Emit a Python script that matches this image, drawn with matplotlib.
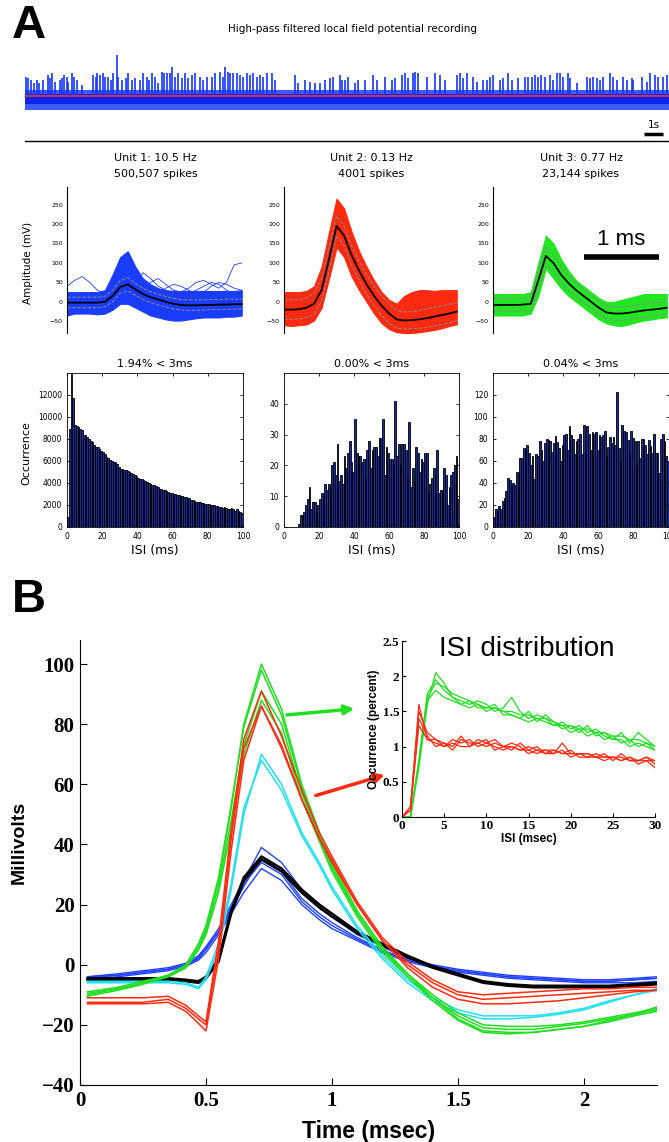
import numpy as np
import matplotlib
matplotlib.use('Agg')
import matplotlib.pyplot as plt

plt.rcParams['font.family'] = ['DejaVu Sans']

# ---------------- data ----------------
# A: raw recording, spike times (s) and heights (arbitrary units)
spike_t = [0.33, 0.46, 0.59, 0.80, 0.93, 1.07, 1.30, 1.58, 1.67, 1.80, 1.95, 2.22, 2.32, 2.45, 2.59,
           2.69, 2.87, 3.00, 3.15, 3.43, 4.08, 4.20, 4.30, 4.45, 4.63, 4.74, 4.91, 5.06, 5.19, 5.37,
           5.46, 5.65, 5.89, 6.02, 6.20, 6.39, 6.67, 6.85, 7.04, 7.17, 7.32, 7.50, 7.69, 7.87, 8.00,
           8.15, 8.33, 8.46, 8.61, 8.80, 8.98, 9.17, 9.35, 9.54, 9.72, 10.00, 10.19, 10.37, 10.65,
           10.83, 11.11, 11.26, 11.39, 11.54, 11.67, 11.85, 12.04, 12.22, 12.41, 12.59, 12.78, 12.96,
           13.15, 13.33, 13.52, 13.70, 13.98, 14.17, 15.28, 15.46, 15.83, 16.11, 16.39, 16.67, 16.95,
           17.22, 17.41, 17.78, 17.87, 18.05, 18.24, 18.61, 18.79, 19.16, 19.63, 19.81, 20.28, 20.65,
           20.83, 21.20, 21.39, 21.57, 21.81, 21.94, 22.13, 22.59, 23.05, 23.33, 23.61, 24.26, 24.44,
           24.63, 24.81, 25.18, 25.37, 25.74, 25.92, 26.11, 26.29, 26.66, 26.85, 27.13, 27.31, 27.68,
           28.05, 28.24, 28.42, 28.61, 28.79, 28.92, 29.16, 29.44, 29.63, 29.81, 30.00, 30.18, 30.46,
           30.55, 30.92, 31.48, 31.66, 31.85, 32.03, 32.22, 32.41, 32.78, 32.96, 33.15, 33.52, 33.70,
           33.98, 34.07, 34.53, 34.81, 34.99, 35.27, 35.46, 35.74, 35.92]
spike_h = [19, 18, 16, 13, 16, 13, 16, 21, 18, 23, 14, 16, 18, 21, 19,
           14, 23, 19, 16, 11, 21, 19, 23, 21, 23, 19, 19, 16, 23, 41,
           19, 16, 18, 23, 16, 18, 16, 23, 19, 16, 23, 19, 13, 24, 23,
           23, 23, 29, 19, 23, 18, 23, 18, 21, 23, 19, 16, 19, 19,
           23, 24, 19, 29, 24, 23, 23, 23, 21, 19, 23, 21, 23,
           19, 21, 19, 23, 23, 16, 21, 13, 16, 14, 13, 13, 16,
           18, 19, 21, 16, 16, 19, 13, 16, 16, 21, 16, 19, 16,
           18, 21, 23, 18, 23, 24, 23, 19, 23, 21, 16, 21, 23,
           18, 23, 19, 14, 16, 16, 19, 21, 16, 18, 23, 16, 18,
           19, 19, 19, 21, 19, 21, 19, 21, 16, 23, 23, 19, 23,
           18, 13, 19, 18, 19, 18, 16, 19, 23, 19, 16, 19, 16,
           18, 16, 19, 14, 23, 21, 19, 19, 21]
noise_outer = (-14, 6)
noise_inner = (-8, 2.5)

# A: spike waveforms (ms, mV)
wave_t = [0.0, 0.1, 0.2, 0.3, 0.4, 0.5, 0.6, 0.7, 0.8, 0.9, 1.0, 1.1,
          1.2, 1.3, 1.4, 1.5, 1.6, 1.7, 1.8, 1.9, 2.0, 2.1, 2.2, 2.3]
u1_mean = [-2, -2, -2, -2, -2, 0, 15, 38, 45, 32, 20, 12, 6, 0, -5, -8, -9, -9, -8, -8, -7, -7, -6, -6]
u1_hi = [25, 25, 25, 25, 25, 30, 70, 115, 130, 90, 60, 45, 35, 30, 28, 28, 28, 28, 28, 28, 28, 28, 28, 30]
u1_lo = [-35, -30, -30, -30, -32, -30, -20, -5, -5, -15, -25, -35, -40, -45, -48, -48, -45, -42, -40, -40, -40, -38, -38, -35]
u1_sd_hi = [12, 12, 12, 12, 12, 14, 30, 55, 62, 47, 35, 26, 20, 14, 9, 6, 5, 5, 5, 6, 6, 7, 7, 7]
u1_sd_lo = [-15, -15, -15, -15, -15, -13, 0, 22, 28, 17, 6, -2, -8, -13, -18, -21, -22, -22, -21, -20, -20, -19, -19, -18]
u1_wild_a = [40, 55, 65, 50, 30, 20, 25, 45, 50, 30, 20, 15, 20, 35, 45, 40, 30, 20, 25, 40, 50, 45, 35, 30]
u1_wild_b = [10, 15, 20, 15, 10, 5, 30, 60, 70, 55, 40, 50, 60, 45, 30, 25, 35, 50, 55, 45, 35, 50, 95, 100]
u1_wild_c = [-20, -10, 5, 10, 0, -5, 20, 50, 60, 40, 75, 60, 40, 30, 20, 15, 20, 30, 40, 50, 45, 30, 20, 15]

u2_mean = [-20, -20, -19, -15, -5, 30, 110, 195, 170, 120, 80, 45, 15, -10, -30, -45, -48, -47, -45, -42, -38, -34, -30, -25]
u2_hi = [25, 25, 25, 28, 40, 90, 180, 265, 240, 180, 130, 90, 55, 25, 5, -5, 15, 25, 30, 30, 28, 30, 30, 30]
u2_lo = [-60, -62, -60, -58, -48, -15, 60, 140, 115, 65, 30, 0, -30, -55, -70, -78, -80, -80, -78, -75, -72, -68, -62, -58]
u2_sd_hi = [5, 5, 6, 10, 22, 58, 140, 220, 195, 145, 105, 70, 40, 15, -5, -22, -26, -25, -22, -18, -14, -10, -6, -2]
u2_sd_lo = [-45, -45, -44, -40, -32, 2, 80, 170, 145, 95, 55, 20, -10, -35, -55, -68, -70, -69, -68, -66, -62, -58, -54, -48]

u3_mean = [-8, -8, -8, -8, -7, -5, 55, 118, 100, 70, 48, 30, 15, 0, -15, -27, -30, -30, -28, -25, -22, -20, -18, -15]
u3_hi = [20, 20, 20, 20, 20, 25, 100, 170, 150, 110, 80, 55, 40, 25, 10, 0, 0, 5, 10, 15, 20, 20, 20, 20]
u3_lo = [-35, -35, -35, -35, -35, -30, 15, 85, 60, 35, 15, 0, -15, -30, -45, -55, -60, -62, -58, -52, -48, -45, -42, -40]
u3_sd_hi = [8, 8, 8, 8, 9, 12, 80, 142, 122, 92, 68, 48, 32, 17, 2, -10, -13, -13, -11, -8, -5, -3, -1, 2]
u3_sd_lo = [-24, -24, -24, -24, -23, -21, 32, 95, 78, 50, 28, 12, -2, -17, -32, -44, -47, -47, -45, -42, -39, -37, -35, -32]

unit_titles = ['Unit 1: 10.5 Hz', 'Unit 2: 0.13 Hz', 'Unit 3: 0.77 Hz']
unit_counts = ['500,507 spikes', '4001 spikes', '23,144 spikes']
unit_colors = ['#1a3cff', '#ff2a10', '#22e622']

# A: ISI histograms (1 ms bins, 0-100 ms)
isi1 = [900, 8900, 13900, 11700, 9300, 9200, 9100, 8900, 8800, 8400,
        8400, 8200, 8000, 7800, 7700, 7500, 7300, 7300, 7100, 6900,
        6800, 6600, 6400, 6300, 6100, 6000, 5900, 5900, 5700, 5500,
        5300, 5300, 5200, 5200, 5100, 5000, 4900, 4800, 4700, 4600,
        4500, 4400, 4400, 4300, 4200, 4100, 4000, 3900, 3800, 3800,
        3700, 3600, 3500, 3500, 3400, 3400, 3300, 3200, 3100, 3100,
        3000, 3000, 2900, 2900, 2800, 2800, 2700, 2700, 2600, 2600,
        2500, 2500, 2400, 2300, 2300, 2300, 2200, 2200, 2100, 2100,
        2100, 2000, 2000, 2000, 1900, 1900, 1800, 1800, 1700, 1800,
        1700, 1600, 1600, 1700, 1600, 1500, 1600, 1500, 1400, 1300]
isi2 = [0, 0, 0, 0, 0, 0, 0, 0, 1, 4,
        4, 5, 7, 9, 13, 6, 8, 8, 5, 7,
        9, 11, 10, 14, 12, 14, 13, 20, 21, 17,
        27, 15, 17, 14, 23, 19, 24, 28, 21, 18,
        35, 24, 23, 23, 21, 22, 16, 25, 28, 19,
        25, 26, 26, 23, 29, 29, 35, 17, 26, 24,
        22, 22, 20, 41, 23, 27, 20, 27, 27, 25,
        16, 34, 13, 19, 15, 26, 24, 18, 22, 21,
        24, 24, 11, 14, 16, 19, 11, 25, 11, 12,
        12, 19, 17, 7, 13, 17, 18, 20, 23, 9]
isi3 = [9, 16, 15, 19, 16, 24, 26, 33, 45, 43,
        37, 40, 38, 50, 48, 63, 63, 72, 70, 75,
        67, 56, 65, 44, 66, 65, 78, 70, 60, 76,
        80, 79, 78, 68, 76, 83, 77, 72, 60, 75,
        84, 85, 70, 92, 84, 80, 66, 78, 80, 85,
        66, 93, 68, 92, 85, 70, 86, 85, 86, 70,
        84, 82, 84, 87, 64, 73, 82, 76, 82, 75,
        123, 72, 60, 93, 87, 86, 79, 66, 87, 81,
        78, 56, 78, 63, 80, 80, 75, 66, 79, 74,
        67, 85, 67, 67, 49, 80, 85, 78, 65, 60]
isi_titles = ['1.94% < 3ms', '0.00% < 3ms', '0.04% < 3ms']
isi_ylims = [14000, 50, 140]
isi_yticks = [[0, 2000, 4000, 6000, 8000, 10000, 12000],
              [0, 10, 20, 30, 40],
              [0, 20, 40, 60, 80, 100, 120]]

# B: overlaid mean waveforms (ms, mV)
tb = [0.03, 0.15, 0.25, 0.35, 0.42, 0.47, 0.50, 0.55, 0.60, 0.65, 0.72, 0.80, 0.88, 0.95,
      1.00, 1.10, 1.20, 1.30, 1.40, 1.50, 1.60, 1.70, 1.80, 1.90, 2.00, 2.10, 2.20, 2.29]
green_traces = [
    [-9, -7.5, -5.5, -3.5, -0.5, 6, 12, 28, 52, 80, 100, 85, 60, 44, 34, 18, 6, -3, -11, -18, -22, -22.5, -22.5, -21.5, -20.5, -19, -17, -15.5],
    [-10.5, -8.5, -6.5, -4, -1, 5, 11, 26, 48, 73, 91, 80, 57, 42, 32, 17, 5, -3, -10, -16, -20, -20.5, -20.5, -20, -19, -17.5, -16, -14.5],
    [-9.5, -8, -6, -4, -1, 5, 10, 24, 45, 70, 88, 77, 55, 41, 31, 16, 4, -4, -11, -17, -21, -21.5, -21.5, -20.5, -19.5, -18, -16.5, -15],
    [-10, -8, -6, -3.5, 0, 7, 13, 29, 53, 79, 98, 83, 59, 43, 33, 17, 5, -4, -12, -18.5, -22.5, -23, -22.5, -21.5, -20.5, -18.5, -16.5, -14],
]
red_traces = [
    [-12.5, -12.5, -12.5, -11.5, -14.5, -18, -20, 5, 42, 72, 86, 72, 55, 42, 35, 20, 8, 0, -6, -10, -11.5, -11, -10.5, -10, -9.5, -9, -8.5, -8.5],
    [-11, -11, -11, -10.5, -13.5, -17, -19, 8, 45, 75, 91, 76, 58, 44, 36, 21, 9, 1, -5, -9, -10, -9.5, -9, -8.5, -8, -8, -7.5, -7.5],
    [-13, -13, -13, -12.5, -15.5, -19.5, -22, 2, 38, 68, 86, 73, 55, 42, 34, 20, 8, -1, -7.5, -11.5, -13, -13, -12.5, -12, -11, -10, -9, -8.5],
]
cyan_traces = [
    [-6, -6, -6, -6, -6.5, -8, -5, 5, 25, 50, 70, 60, 44, 34, 26, 13, 3, -5, -11, -15, -17, -17, -17, -16, -14.5, -12, -10, -8],
    [-5.5, -5.5, -5.5, -5.5, -6, -7.5, -4, 7, 27, 52, 68, 58, 43, 33, 25, 12, 2, -6, -12, -16, -18, -18, -17.5, -16.5, -15, -12.5, -10, -8.5],
]
blue_traces = [
    [-4, -3, -2, -1, 0.5, 3, 6, 12, 20, 28, 39, 34, 25, 19, 16, 10, 6, 2, 0, -1.5, -2.5, -3.5, -4, -4.5, -5, -5, -4.5, -4],
    [-4.5, -3.5, -2.5, -1.5, 0, 2, 5, 11, 18, 26, 36, 31, 22, 17, 14, 9, 5, 1.5, -0.5, -2, -3, -4, -4.5, -5, -5.5, -5.5, -5, -4.5],
    [-5, -4, -3, -2, -0.5, 1.5, 4, 10, 17, 24, 32, 28, 20, 15, 12, 8, 4, 1, -1, -2.5, -3.5, -4.5, -5, -5.5, -6, -6, -6, -5.5],
    [-4, -3.5, -2.5, -1.5, 0, 2.5, 5.5, 11, 19, 27, 34, 30, 21, 16, 13, 8.5, 4.5, 1.5, -0.5, -2, -3, -4, -4.5, -5, -5.5, -5.5, -5, -4.5],
]
black_traces = [
    [-5, -5, -5, -5, -5.5, -6, -4.5, 1, 17, 28, 35, 31, 24, 19, 16, 10.5, 6.5, 2.5, -1, -3.5, -6, -7, -7.5, -7.5, -7.5, -7.5, -7, -6.5],
    [-4.5, -4.5, -4.5, -4.5, -5, -5.5, -4, 2, 18, 29, 36, 32, 25, 20, 17, 11, 7, 3, -0.5, -3, -5.5, -6.5, -7, -7, -7, -7, -6.5, -6],
]

# B inset: ISI distributions (percent)
isi_ms = list(range(31))
green_isi = [
    [0, 0, 0.8, 1.7, 1.9, 1.85, 1.75, 1.7, 1.65, 1.6, 1.55, 1.55, 1.5, 1.5, 1.45, 1.45, 1.4, 1.4, 1.35, 1.3, 1.3, 1.25, 1.25, 1.2, 1.2, 1.15, 1.15, 1.1, 1.1, 1.05, 1.0],
    [0, 0, 0.7, 1.6, 2.05, 1.9, 1.7, 1.65, 1.6, 1.65, 1.6, 1.5, 1.55, 1.7, 1.5, 1.4, 1.45, 1.4, 1.3, 1.35, 1.25, 1.3, 1.2, 1.25, 1.15, 1.1, 1.2, 1.05, 1.2, 1.1, 1.0],
    [0, 0, 0.75, 1.65, 1.8, 1.7, 1.65, 1.6, 1.65, 1.55, 1.55, 1.6, 1.45, 1.45, 1.4, 1.5, 1.35, 1.45, 1.35, 1.25, 1.3, 1.2, 1.3, 1.15, 1.2, 1.1, 1.1, 1.0, 1.05, 1.0, 0.95],
    [0, 0, 0.8, 1.75, 1.95, 1.8, 1.7, 1.6, 1.55, 1.6, 1.5, 1.55, 1.5, 1.45, 1.4, 1.35, 1.4, 1.35, 1.3, 1.3, 1.2, 1.25, 1.15, 1.2, 1.1, 1.15, 1.05, 1.1, 1.0, 1.05, 0.95],
]
red_isi = [
    [0, 0.1, 1.6, 1.1, 1.05, 1.0, 1.1, 1.05, 1.1, 1.0, 1.05, 1.0, 0.95, 1.0, 0.95, 1.0, 0.95, 0.9, 0.95, 0.9, 0.95, 0.85, 0.85, 0.9, 0.85, 0.85, 0.8, 0.85, 0.8, 0.85, 0.8],
    [0, 0.15, 1.5, 1.2, 1.1, 1.05, 1.0, 1.15, 1.0, 1.1, 1.05, 1.1, 1.0, 0.95, 1.05, 0.95, 1.0, 0.9, 0.9, 1.05, 0.9, 0.9, 0.85, 0.85, 0.9, 0.8, 0.9, 0.8, 0.8, 0.85, 0.75],
    [0, 0.1, 1.4, 1.15, 1.0, 1.05, 0.95, 1.1, 1.05, 1.05, 1.0, 1.05, 1.0, 1.0, 0.95, 0.95, 0.9, 0.95, 0.95, 0.9, 0.9, 0.9, 0.9, 0.85, 0.85, 0.85, 0.85, 0.8, 0.8, 0.8, 0.8],
    [0, 0.1, 1.3, 1.1, 1.1, 1.0, 1.05, 1.0, 1.0, 1.05, 1.1, 0.95, 1.0, 1.05, 1.0, 0.9, 0.95, 0.95, 0.9, 0.95, 0.85, 0.9, 0.9, 0.85, 0.8, 0.85, 0.8, 0.85, 0.75, 0.8, 0.7],
]

# ---------------- figure ----------------
W, H = 669, 1142
fig = plt.figure(figsize=(W / 100, H / 100), dpi=100)


def add_ax(x0, y0, x1, y1):
    # axes placed in pixel coords of the reference (origin top-left)
    return fig.add_axes([x0 / W, 1 - y1 / H, (x1 - x0) / W, (y1 - y0) / H])


fig.text(12 / W, 1 - 26 / H, 'A', fontsize=34, fontweight='bold', family='Liberation Sans', va='center')
fig.text(12 / W, 1 - 600 / H, 'B', fontsize=34, fontweight='bold', family='Liberation Sans', va='center')
fig.text(353 / W, 1 - 29 / H, 'High-pass filtered local field potential recording', fontsize=7.5,
         ha='center', va='center')

# raw trace
ax = add_ax(25, 45, 669, 141)
ax.fill_between([0, 36.05], noise_outer[0], noise_outer[1], color='#3d5cff', lw=0)
ax.fill_between([0, 36.05], noise_inner[0], noise_inner[1], color='#0a24f0', lw=0)
ax.vlines(spike_t, 0, spike_h, color='#1535ff', lw=1.2)
ax.axhline(0, color='#ff3030', lw=1.2)
ax.plot([34.67, 35.72], [-38, -38], color='black', lw=2.5, solid_capstyle='butt')
ax.text(35.2, -29, '1s', fontsize=7.5, ha='center', va='center')
ax.set_xlim(0.28, 36.05)
ax.set_ylim(-45, 51)
for s in ['top', 'right', 'left']:
    ax.spines[s].set_visible(False)
ax.spines['bottom'].set_linewidth(1.0)
ax.set_xticks([])
ax.set_yticks([])

# waveform panels
wave_x = [(67, 244), (284, 459), (493, 669)]
wave_sets = [
    (u1_mean, u1_hi, u1_lo, u1_sd_hi, u1_sd_lo),
    (u2_mean, u2_hi, u2_lo, u2_sd_hi, u2_sd_lo),
    (u3_mean, u3_hi, u3_lo, u3_sd_hi, u3_sd_lo),
]
for i in range(3):
    x0, x1 = wave_x[i]
    ax = add_ax(x0, 187, x1, 333)
    mean, hi, lo, sdh, sdl = wave_sets[i]
    ax.fill_between(wave_t, lo, hi, color=unit_colors[i], lw=0.8, edgecolor=unit_colors[i])
    if i == 0:
        for wild in [u1_wild_a, u1_wild_b, u1_wild_c]:
            ax.plot(wave_t, wild, color=unit_colors[i], lw=0.6)
    ax.plot(wave_t, sdh, color='#888888', lw=0.7, ls='--')
    ax.plot(wave_t, sdl, color='#888888', lw=0.7, ls='--')
    ax.plot(wave_t, mean, color='black', lw=1.3)
    ax.set_xlim(0, 2.33)
    ax.set_ylim(-80, 295)
    for s in ['top', 'right', 'bottom']:
        ax.spines[s].set_visible(False)
    ax.spines['left'].set_linewidth(0.8)
    ax.set_xticks([])
    ax.set_yticks([-50, 0, 50, 100, 150, 200, 250])
    ax.tick_params(axis='y', labelsize=4.5, length=0, pad=3)
    cx = (x0 + x1) / 2
    fig.text(cx / W, 1 - 158 / H, unit_titles[i], fontsize=8, ha='center', va='center')
    fig.text(cx / W, 1 - 174 / H, unit_counts[i], fontsize=8, ha='center', va='center')
    if i == 2:
        ax.plot([1.2, 2.2], [115, 115], color='black', lw=4, solid_capstyle='butt')
        ax.text(1.7, 160, '1 ms', fontsize=16, family='Liberation Sans', ha='center', va='center')
fig.text(28 / W, 1 - 263 / H, 'Amplitude (mV)', fontsize=7.5, rotation=90, ha='center', va='center')

# ISI histograms
hist_x = [(67, 243), (284, 459), (493, 669)]
for i, vals in enumerate([isi1, isi2, isi3]):
    x0, x1 = hist_x[i]
    ax = add_ax(x0, 373, x1, 527)
    ax.bar(np.arange(len(vals)) + 0.5, vals, width=1.0, color='#1a2c9c', edgecolor='black', lw=0.6)
    ax.set_xlim(0, 100)
    ax.set_ylim(0, isi_ylims[i])
    ax.set_xticks([0, 20, 40, 60, 80, 100])
    ax.set_yticks(isi_yticks[i])
    ax.tick_params(labelsize=5.5, direction='in', length=2, top=True, right=True, width=0.6)
    for s in ax.spines.values():
        s.set_linewidth(0.6)
    ax.set_title(isi_titles[i], fontsize=8, pad=4)
    ax.set_xlabel('ISI (ms)', fontsize=9, labelpad=2)
fig.text(26 / W, 1 - 453 / H, 'Occurrence', fontsize=8, rotation=90, ha='center', va='center')

# panel B main axes
axb = add_ax(80, 640, 657, 1085)
for tr in blue_traces:
    axb.plot(tb, tr, color='#2040ff', lw=1.0)
for tr in black_traces:
    axb.plot(tb, tr, color='black', lw=1.8)
for tr in cyan_traces:
    axb.plot(tb, tr, color='#22e0f0', lw=1.1)
for tr in green_traces:
    axb.plot(tb, tr, color='#22dd22', lw=1.1)
for tr in red_traces:
    axb.plot(tb, tr, color='#ff2a10', lw=1.1)
axb.set_xlim(0, 2.29)
axb.set_ylim(-40, 108)
axb.set_xticks([0, 0.5, 1, 1.5, 2])
axb.set_xticklabels(['0', '0.5', '1', '1.5', '2'])
axb.set_yticks([-40, -20, 0, 20, 40, 60, 80, 100])
axb.spines['top'].set_visible(False)
axb.spines['right'].set_visible(False)
axb.tick_params(direction='in', length=5, labelsize=15, pad=4)
for lab in axb.get_xticklabels() + axb.get_yticklabels():
    lab.set_fontfamily('Liberation Serif')
    lab.set_fontweight('bold')
axb.set_xlabel('Time (msec)', fontsize=16.5, fontweight='bold', family='Liberation Sans', labelpad=7)
axb.set_ylabel('Millivolts', fontsize=14, fontweight='bold', family='Liberation Sans')
axb.yaxis.set_label_coords(-0.09, 0.546)

axb.annotate('', xy=(1.10, 85.2), xytext=(0.81, 83),
             arrowprops=dict(arrowstyle='-|>', color='#22dd22', lw=2.5, mutation_scale=14))
axb.annotate('', xy=(1.22, 63.4), xytext=(0.925, 56),
             arrowprops=dict(arrowstyle='-|>', color='#ff2a10', lw=2.5, mutation_scale=14))

# inset
axi = add_ax(402, 641, 655, 817)
for tr in green_isi:
    axi.plot(isi_ms, tr, color='#22dd22', lw=0.9)
for tr in red_isi:
    axi.plot(isi_ms, tr, color='#ff2a10', lw=0.9)
axi.set_xlim(0, 30)
axi.set_ylim(0, 2.5)
axi.set_xticks([0, 5, 10, 15, 20, 25, 30])
axi.set_yticks([0, 0.5, 1, 1.5, 2, 2.5])
axi.set_yticklabels(['0', '0.5', '1', '1.5', '2', '2.5'])
axi.spines['top'].set_visible(False)
axi.spines['right'].set_visible(False)
axi.tick_params(direction='in', length=3, labelsize=9.5, pad=2)
for lab in axi.get_xticklabels() + axi.get_yticklabels():
    lab.set_fontfamily('Liberation Serif')
    lab.set_fontweight('bold')
axi.set_xlabel('ISI (msec)', fontsize=8.5, fontweight='bold', family='Liberation Sans', labelpad=1)
axi.set_ylabel('Occurrence (percent)', fontsize=8.5, fontweight='bold', family='Liberation Sans', labelpad=2)
fig.text(527 / W, 1 - 649 / H, 'ISI distribution', fontsize=20, family='Liberation Sans', ha='center', va='center')

fig.savefig('out.png', dpi=100)
